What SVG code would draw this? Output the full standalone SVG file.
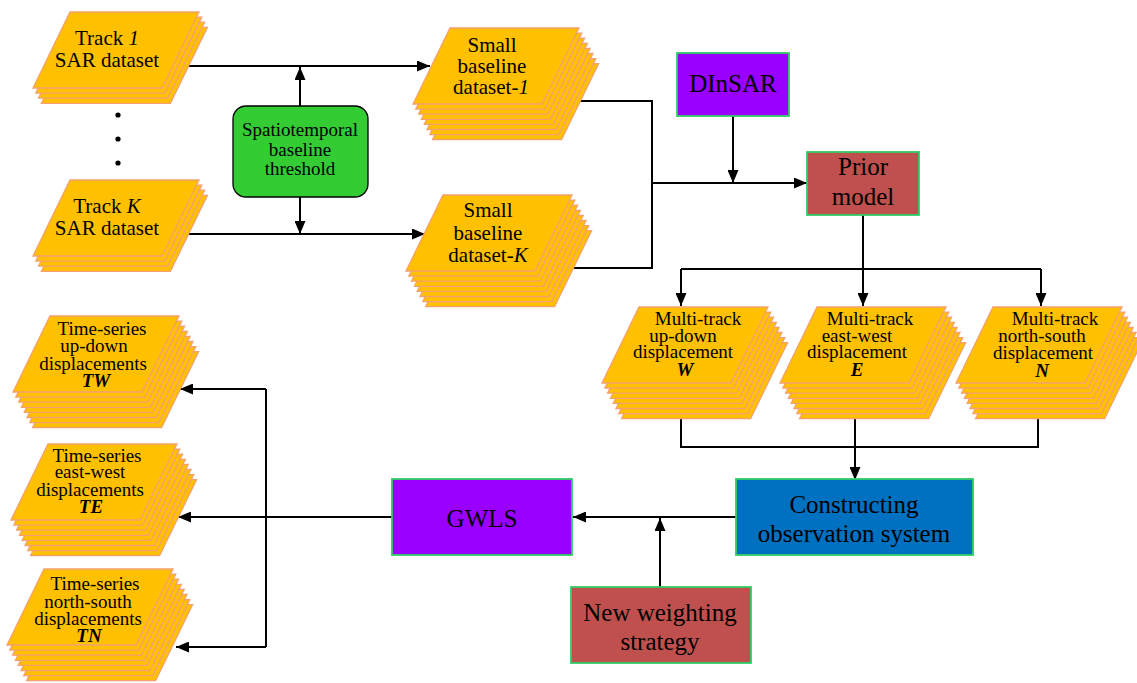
<svg xmlns="http://www.w3.org/2000/svg" xmlns:xlink="http://www.w3.org/1999/xlink" width="1137" height="683" viewBox="0 0 1137 683">
<style>
.lay{fill:#FFC000;stroke:#F4A070;stroke-width:1.3}
.t{font-family:"Liberation Serif","Times New Roman",serif;fill:#000;text-anchor:middle}
.s19{font-size:19px}
.s21{font-size:21px}
.s25{font-size:25px}
.bi{font-weight:bold;font-style:italic}
.it{font-style:italic}
.box{stroke:#33CC66;stroke-width:1.8}
.con{fill:none;stroke:#000;stroke-width:2}
</style>
<defs>
<path id="pg" d="M0,0 H129 L92,76 H-37 Z"/>
<marker id="ah" markerUnits="userSpaceOnUse" markerWidth="13" markerHeight="11" refX="13" refY="5.5" orient="auto">
<path d="M0,0 L13,5.5 L0,11 Z" fill="#000"/>
</marker>
</defs>
<rect width="1137" height="683" fill="#fff"/>

<g id="connectors">
<path class="con" d="M187,66 H430" marker-end="url(#ah)"/>
<path class="con" d="M187,234 H425" marker-end="url(#ah)"/>
<path class="con" d="M300,106 V67" marker-end="url(#ah)"/>
<path class="con" d="M300,197 V234" marker-end="url(#ah)"/>
<path class="con" d="M575,101 H652 V268 H572"/>
<path class="con" d="M652,183 H807" marker-end="url(#ah)"/>
<path class="con" d="M733,116 V183" marker-end="url(#ah)"/>
<path class="con" d="M863,215 V306" marker-end="url(#ah)"/>
<path class="con" d="M681,269 H1041"/>
<path class="con" d="M681,269 V306" marker-end="url(#ah)"/>
<path class="con" d="M1041,269 V306" marker-end="url(#ah)"/>
<path class="con" d="M681,418 V447 H1038 V418"/>
<path class="con" d="M855,418 V480" marker-end="url(#ah)"/>
<path class="con" d="M736,517 H573" marker-end="url(#ah)"/>
<path class="con" d="M660,587 V518" marker-end="url(#ah)"/>
<path class="con" d="M392,517 H178" marker-end="url(#ah)"/>
<path class="con" d="M266,389 V647"/>
<path class="con" d="M266,389 H180" marker-end="url(#ah)"/>
<path class="con" d="M266,647 H176" marker-end="url(#ah)"/>
</g>

<g id="track1">
<use xlink:href="#pg" class="lay" x="78.4" y="27.3"/>
<use xlink:href="#pg" class="lay" x="75.6" y="22.2"/>
<use xlink:href="#pg" class="lay" x="72.8" y="17.1"/>
<use xlink:href="#pg" class="lay" x="70" y="12"/>
<text class="t s21" x="107" y="45">Track <tspan class="it">1</tspan></text>
<text class="t s21" x="107" y="67">SAR dataset</text>
</g>

<g id="dots">
<circle cx="118" cy="115" r="2.6"/>
<circle cx="118" cy="139" r="2.6"/>
<circle cx="118" cy="163" r="2.6"/>
</g>

<g id="trackK">
<use xlink:href="#pg" class="lay" x="78.4" y="195.3"/>
<use xlink:href="#pg" class="lay" x="75.6" y="190.2"/>
<use xlink:href="#pg" class="lay" x="72.8" y="185.1"/>
<use xlink:href="#pg" class="lay" x="70" y="180"/>
<text class="t s21" x="107" y="213">Track <tspan class="it">K</tspan></text>
<text class="t s21" x="107" y="235">SAR dataset</text>
</g>

<g id="threshold">
<rect x="233" y="106" width="135" height="91" rx="13" fill="#33CC33" stroke="#000" stroke-width="1.3"/>
<text class="t s19" x="300" y="136">Spatiotemporal</text>
<text class="t s19" x="300" y="156">baseline</text>
<text class="t s19" x="300" y="175">threshold</text>
</g>

<g id="sb1">
<use xlink:href="#pg" class="lay" x="469.6" y="63.7"/>
<use xlink:href="#pg" class="lay" x="466.8" y="58.6"/>
<use xlink:href="#pg" class="lay" x="464" y="53.5"/>
<use xlink:href="#pg" class="lay" x="461.2" y="48.4"/>
<use xlink:href="#pg" class="lay" x="458.4" y="43.3"/>
<use xlink:href="#pg" class="lay" x="455.6" y="38.2"/>
<use xlink:href="#pg" class="lay" x="452.8" y="33.1"/>
<use xlink:href="#pg" class="lay" x="450" y="28"/>
<text class="t s21" x="492" y="52">Small</text>
<text class="t s21" x="492" y="73">baseline</text>
<text class="t s21" x="491" y="94">dataset-<tspan class="it">1</tspan></text>
</g>

<g id="sbK">
<use xlink:href="#pg" class="lay" x="462.6" y="230.7"/>
<use xlink:href="#pg" class="lay" x="459.8" y="225.6"/>
<use xlink:href="#pg" class="lay" x="457" y="220.5"/>
<use xlink:href="#pg" class="lay" x="454.2" y="215.4"/>
<use xlink:href="#pg" class="lay" x="451.4" y="210.3"/>
<use xlink:href="#pg" class="lay" x="448.6" y="205.2"/>
<use xlink:href="#pg" class="lay" x="445.8" y="200.1"/>
<use xlink:href="#pg" class="lay" x="443" y="195"/>
<text class="t s21" x="488" y="217">Small</text>
<text class="t s21" x="488" y="240">baseline</text>
<text class="t s21" x="488" y="262">dataset-<tspan class="it">K</tspan></text>
</g>

<g id="dinsar">
<rect class="box" x="677" y="53" width="112" height="63" fill="#9900FF"/>
<text class="t s25" x="733" y="92">DInSAR</text>
</g>

<g id="prior">
<rect class="box" x="807" y="152" width="112" height="63" fill="#C0504D"/>
<text class="t s25" x="863" y="175">Prior</text>
<text class="t s25" x="863" y="205">model</text>
</g>

<g id="mtW">
<use xlink:href="#pg" class="lay" x="658.6" y="342.7"/>
<use xlink:href="#pg" class="lay" x="655.8" y="337.6"/>
<use xlink:href="#pg" class="lay" x="653" y="332.5"/>
<use xlink:href="#pg" class="lay" x="650.2" y="327.4"/>
<use xlink:href="#pg" class="lay" x="647.4" y="322.3"/>
<use xlink:href="#pg" class="lay" x="644.6" y="317.2"/>
<use xlink:href="#pg" class="lay" x="641.8" y="312.1"/>
<use xlink:href="#pg" class="lay" x="639" y="307"/>
<text class="t s19" x="698" y="325">Multi-track</text>
<text class="t s19" x="683" y="342">up-down</text>
<text class="t s19" x="683" y="358">displacement</text>
<text class="t s19 bi" x="685" y="376">W</text>
</g>

<g id="mtE">
<use xlink:href="#pg" class="lay" x="836.6" y="342.7"/>
<use xlink:href="#pg" class="lay" x="833.8" y="337.6"/>
<use xlink:href="#pg" class="lay" x="831" y="332.5"/>
<use xlink:href="#pg" class="lay" x="828.2" y="327.4"/>
<use xlink:href="#pg" class="lay" x="825.4" y="322.3"/>
<use xlink:href="#pg" class="lay" x="822.6" y="317.2"/>
<use xlink:href="#pg" class="lay" x="819.8" y="312.1"/>
<use xlink:href="#pg" class="lay" x="817" y="307"/>
<text class="t s19" x="870" y="325">Multi-track</text>
<text class="t s19" x="857" y="342">east-west</text>
<text class="t s19" x="857" y="358">displacement</text>
<text class="t s19 bi" x="857" y="376">E</text>
</g>

<g id="mtN">
<use xlink:href="#pg" class="lay" x="1012.6" y="342.7"/>
<use xlink:href="#pg" class="lay" x="1009.8" y="337.6"/>
<use xlink:href="#pg" class="lay" x="1007" y="332.5"/>
<use xlink:href="#pg" class="lay" x="1004.2" y="327.4"/>
<use xlink:href="#pg" class="lay" x="1001.4" y="322.3"/>
<use xlink:href="#pg" class="lay" x="998.6" y="317.2"/>
<use xlink:href="#pg" class="lay" x="995.8" y="312.1"/>
<use xlink:href="#pg" class="lay" x="993" y="307"/>
<text class="t s19" x="1055" y="325">Multi-track</text>
<text class="t s19" x="1042" y="342">north-south</text>
<text class="t s19" x="1043" y="359">displacement</text>
<text class="t s19 bi" x="1042" y="377">N</text>
</g>

<g id="construct">
<rect class="box" x="736" y="479" width="237" height="76" fill="#0070C0"/>
<text class="t s25" x="854" y="513">Constructing</text>
<text class="t s25" x="854" y="542">observation system</text>
</g>

<g id="gwls">
<rect class="box" x="392" y="479" width="180" height="76" fill="#9900FF"/>
<text class="t s25" x="482" y="527">GWLS</text>
</g>

<g id="weighting">
<rect class="box" x="571" y="587" width="180" height="76" fill="#C0504D"/>
<text class="t s25" x="660" y="621">New weighting</text>
<text class="t s25" x="660" y="650">strategy</text>
</g>

<g id="tsTW">
<use xlink:href="#pg" class="lay" x="69.6" y="351.7"/>
<use xlink:href="#pg" class="lay" x="66.8" y="346.6"/>
<use xlink:href="#pg" class="lay" x="64" y="341.5"/>
<use xlink:href="#pg" class="lay" x="61.2" y="336.4"/>
<use xlink:href="#pg" class="lay" x="58.4" y="331.3"/>
<use xlink:href="#pg" class="lay" x="55.6" y="326.2"/>
<use xlink:href="#pg" class="lay" x="52.8" y="321.1"/>
<use xlink:href="#pg" class="lay" x="50" y="316"/>
<text class="t s19" x="102" y="335">Time-series</text>
<text class="t s19" x="94" y="352">up-down</text>
<text class="t s19" x="93" y="370">displacements</text>
<text class="t s19 bi" x="96" y="387">TW</text>
</g>

<g id="tsTE">
<use xlink:href="#pg" class="lay" x="67.6" y="479.7"/>
<use xlink:href="#pg" class="lay" x="64.8" y="474.6"/>
<use xlink:href="#pg" class="lay" x="62" y="469.5"/>
<use xlink:href="#pg" class="lay" x="59.2" y="464.4"/>
<use xlink:href="#pg" class="lay" x="56.4" y="459.3"/>
<use xlink:href="#pg" class="lay" x="53.6" y="454.2"/>
<use xlink:href="#pg" class="lay" x="50.8" y="449.1"/>
<use xlink:href="#pg" class="lay" x="48" y="444"/>
<text class="t s19" x="97" y="462">Time-series</text>
<text class="t s19" x="90" y="478">east-west</text>
<text class="t s19" x="90" y="496">displacements</text>
<text class="t s19 bi" x="91" y="513">TE</text>
</g>

<g id="tsTN">
<use xlink:href="#pg" class="lay" x="63.6" y="604.7"/>
<use xlink:href="#pg" class="lay" x="60.8" y="599.6"/>
<use xlink:href="#pg" class="lay" x="58" y="594.5"/>
<use xlink:href="#pg" class="lay" x="55.2" y="589.4"/>
<use xlink:href="#pg" class="lay" x="52.4" y="584.3"/>
<use xlink:href="#pg" class="lay" x="49.6" y="579.2"/>
<use xlink:href="#pg" class="lay" x="46.8" y="574.1"/>
<use xlink:href="#pg" class="lay" x="44" y="569"/>
<text class="t s19" x="95" y="590">Time-series</text>
<text class="t s19" x="88" y="608">north-south</text>
<text class="t s19" x="88" y="625">displacements</text>
<text class="t s19 bi" x="89" y="642">TN</text>
</g>
</svg>
